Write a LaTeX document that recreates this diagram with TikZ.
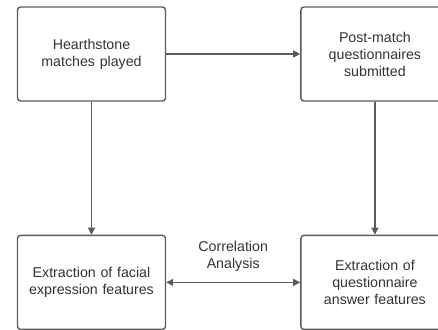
\documentclass[tikz,border=0pt]{standalone}
\usepackage{fontspec}
\setmainfont{Liberation Sans}
\usetikzlibrary{positioning,arrows.meta}
\definecolor{linegray}{HTML}{5B5B5B}
\definecolor{textgray}{HTML}{333333}

\tikzstyle{process} = [rectangle, rounded corners=3pt, minimum width=148pt, minimum height=94pt, text width=140pt, align=center, draw=linegray, line width=1.4pt, fill=white, text=textgray, font=\fontsize{14.2}{17}\selectfont]
\tikzstyle{arrow} = [line width=1.3pt, draw=linegray, -{Triangle[length=7pt, width=7pt]}]
\tikzstyle{biarrow} = [line width=1.3pt, draw=linegray, {Triangle[length=7pt, width=7pt]}-{Triangle[length=7pt, width=7pt]}]

\begin{document}
\begin{tikzpicture}[node distance = 133pt and 134pt, auto]
	\clip (0,0) rectangle (438pt,-329pt);
	% Place nodes
	\node [process] (MatchesPlayed) at (91.5pt,-54pt) {Hearthstone\\matches played};
	\node [process, right=of MatchesPlayed] (QuestionnairesSubmitted) {Post-match\\questionnaires\\submitted};
	\node [process, below=of MatchesPlayed] (FacialFeatures) {Extraction of facial\\expression features};
	\node [process, below=of QuestionnairesSubmitted] (AnswerFeatures) {Extraction of\\questionnaire\\answer features};
	% Draw edges
	\draw [arrow] (MatchesPlayed) -- (QuestionnairesSubmitted);
	\draw [arrow] (MatchesPlayed) -- (FacialFeatures);
	\draw [arrow] (QuestionnairesSubmitted) -- (AnswerFeatures);
	\draw [biarrow] (FacialFeatures) -- node [above=7pt, align=center, text=textgray, font=\fontsize{14.2}{17}\selectfont] {Correlation\\Analysis} (AnswerFeatures);
\end{tikzpicture}
\end{document}
